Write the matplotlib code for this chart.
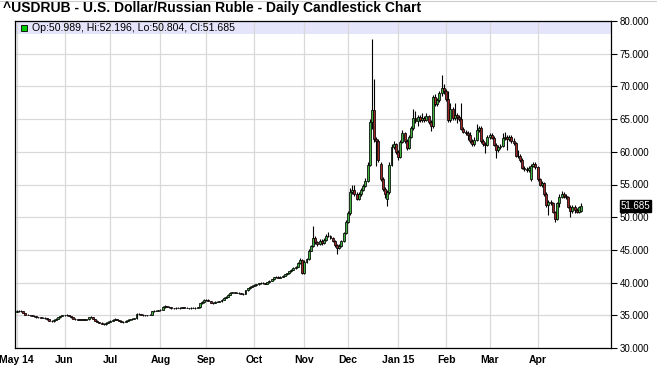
import numpy as np
import pandas as pd
import matplotlib
matplotlib.use("Agg")
import matplotlib.pyplot as plt
from matplotlib.lines import Line2D

# USD/RUB daily candles, May 2014 - Apr 2015
opens = [
    35.55, 35.62, 35.68, 35.60, 35.35, 35.12, 35.05, 35.00, 34.92, 34.85, 34.72, 34.68, 34.65, 34.62, 34.55, 34.40, 34.20, 34.08, 34.35, 34.50, 34.72, 34.88,  # May
    34.98, 35.02, 35.05, 34.90, 34.72, 34.50, 34.38, 34.35, 34.33, 34.36, 34.34, 34.40, 34.68, 34.72, 34.45, 34.20, 34.00, 33.85, 33.72, 33.62, 33.88,  # Jun
    34.05, 34.20, 34.35, 34.42, 34.30, 34.18, 34.05, 34.00, 34.15, 34.35, 34.40, 34.50, 34.55, 35.25, 35.20, 35.10, 35.02, 35.00, 35.05, 35.08, 35.60, 35.70, 35.72,  # Jul
    35.78, 35.80, 36.25, 36.40, 36.30, 36.20, 36.10, 36.05, 36.15, 36.18, 36.10, 36.20, 36.15, 36.12, 36.08, 36.12, 36.15, 36.10, 36.20, 36.85, 37.00,  # Aug
    37.30, 37.40, 37.20, 36.95, 36.90, 37.05, 37.10, 37.15, 37.40, 37.65, 37.85, 38.10, 38.45, 38.50, 38.45, 38.48, 38.40, 38.30, 38.25, 38.80, 39.10, 39.35,  # Sep
    39.55, 39.60, 39.75, 39.90, 40.00, 39.92, 39.85, 40.05, 40.30, 40.50, 40.80, 40.90, 40.75, 40.85, 41.05, 41.25, 41.40, 41.70, 41.95, 42.20, 42.45, 43.00, 43.40,  # Oct
    41.40, 43.20, 43.60, 44.90, 45.60, 46.80, 46.20, 45.90, 46.40, 46.00, 46.50, 47.20, 47.10, 46.80, 46.40, 45.70, 45.30, 45.60, 46.30, 47.60,  # Nov
    49.30, 50.60, 53.80, 54.20, 53.60, 52.80, 53.50, 54.20, 54.80, 55.60, 58.00, 64.50, 66.40, 62.00, 61.60, 58.20, 55.90, 54.30, 52.80, 53.80, 58.00, 60.80, 61.20,  # Dec
    60.00, 59.20, 61.50, 62.90, 61.60, 60.60, 62.30, 63.60, 65.20, 64.70, 65.30, 64.80, 65.20, 64.90, 65.40, 64.60, 63.90, 68.40, 67.30, 67.90, 69.00, 69.80,  # Jan
    69.30, 68.00, 64.90, 66.50, 65.20, 65.60, 65.30, 65.00, 63.50, 63.10, 62.90, 62.60, 61.70, 61.20, 61.80, 63.40, 63.60, 61.60, 61.20, 61.10,  # Feb
    62.30, 62.50, 62.10, 61.10, 60.30, 60.70, 60.90, 62.10, 62.30, 61.90, 62.20, 61.70, 61.30, 59.40, 59.30, 58.80, 57.50, 57.30, 57.20, 55.80, 57.90, 58.20,  # Mar
    57.60, 55.80, 55.00, 55.20, 53.60, 51.80, 52.40, 52.10, 50.80, 49.80, 52.10, 53.10, 53.60, 53.30, 53.10, 51.60, 50.90, 51.60, 51.10, 50.80, 50.989,  # Apr
]
highs = [
    35.75, 35.78, 35.80, 35.65, 35.40, 35.20, 35.12, 35.08, 35.00, 34.90, 34.80, 34.75, 34.72, 34.70, 34.60, 34.45, 34.25, 34.42, 34.58, 34.80, 34.95, 35.05,
    35.12, 35.15, 35.10, 34.95, 34.78, 34.55, 34.45, 34.42, 34.44, 34.43, 34.48, 34.78, 34.85, 34.78, 34.50, 34.25, 34.05, 33.90, 33.78, 33.95, 34.12,
    34.28, 34.45, 34.52, 34.48, 34.35, 34.22, 34.12, 34.22, 34.42, 34.48, 34.58, 34.65, 35.35, 35.32, 35.26, 35.15, 35.10, 35.12, 35.15, 35.68, 35.78, 35.82, 35.88,
    35.90, 36.35, 36.50, 36.48, 36.36, 36.26, 36.18, 36.24, 36.26, 36.24, 36.28, 36.26, 36.22, 36.18, 36.20, 36.22, 36.20, 36.28, 36.95, 37.12, 37.42,
    37.52, 37.48, 37.25, 37.05, 37.15, 37.20, 37.25, 37.50, 37.75, 37.95, 38.20, 38.55, 38.62, 38.60, 38.58, 38.55, 38.45, 38.36, 38.90, 39.20, 39.45, 39.65,
    39.72, 39.85, 40.00, 40.12, 40.08, 40.00, 40.15, 40.40, 40.62, 40.92, 41.02, 40.98, 40.96, 41.15, 41.36, 41.52, 41.82, 42.08, 42.32, 42.60, 43.15, 43.75, 43.55,
    43.40, 43.80, 45.10, 45.80, 48.60, 47.10, 46.40, 46.70, 46.60, 46.80, 47.50, 47.80, 47.30, 46.95, 46.55, 45.85, 45.85, 46.50, 47.80, 49.50,
    50.90, 54.50, 55.00, 55.00, 53.90, 53.80, 54.50, 55.10, 56.00, 58.40, 65.00, 77.30, 71.10, 62.30, 61.90, 58.40, 56.20, 54.60, 54.10, 58.40, 61.20, 61.60, 61.40,
    60.20, 61.80, 63.30, 63.10, 61.90, 62.60, 63.90, 66.50, 66.20, 65.60, 65.60, 66.00, 65.50, 66.00, 65.70, 64.90, 68.70, 68.90, 68.20, 69.30, 71.70, 70.40,
    69.60, 69.30, 67.50, 66.90, 67.50, 66.00, 65.60, 67.50, 63.80, 63.40, 63.20, 63.10, 62.00, 62.30, 64.30, 63.90, 63.90, 61.90, 61.50, 62.60,
    62.80, 62.80, 62.40, 61.40, 61.00, 61.20, 62.80, 63.00, 62.60, 62.60, 62.50, 62.10, 61.50, 60.30, 59.60, 59.00, 57.80, 57.60, 57.80, 58.10, 58.50, 58.40,
    57.80, 56.00, 55.50, 55.40, 53.80, 52.60, 52.70, 52.30, 51.00, 52.30, 53.60, 54.00, 53.90, 53.60, 53.30, 51.90, 51.80, 51.90, 51.40, 51.70, 52.196,
]
lows = [
    35.50, 35.55, 35.52, 35.28, 35.05, 34.98, 34.92, 34.85, 34.78, 34.65, 34.60, 34.58, 34.55, 34.48, 34.32, 34.12, 33.98, 34.02, 34.28, 34.45, 34.65, 34.82,
    34.90, 34.95, 34.82, 34.65, 34.42, 34.30, 34.28, 34.26, 34.27, 34.27, 34.28, 34.35, 34.60, 34.38, 34.12, 33.92, 33.78, 33.62, 33.52, 33.55, 33.82,
    33.98, 34.15, 34.28, 34.22, 34.10, 33.95, 33.80, 33.92, 34.10, 34.30, 34.35, 34.45, 34.50, 35.12, 35.02, 34.95, 34.92, 34.94, 34.98, 35.02, 35.52, 35.62, 35.65,
    35.70, 35.75, 36.18, 36.22, 36.12, 36.02, 35.98, 36.00, 36.08, 36.02, 36.04, 36.08, 36.05, 36.00, 36.02, 36.06, 36.03, 36.04, 36.15, 36.78, 36.95,
    37.22, 37.12, 36.85, 36.80, 36.85, 36.98, 37.02, 37.10, 37.35, 37.58, 37.80, 38.05, 38.38, 38.36, 38.38, 38.32, 38.22, 38.15, 38.20, 38.75, 39.05, 39.28,
    39.48, 39.52, 39.68, 39.85, 39.84, 39.76, 39.80, 40.00, 40.25, 40.45, 40.72, 40.65, 40.68, 40.80, 41.00, 41.18, 41.35, 41.62, 41.88, 42.12, 42.40, 42.90, 41.30,
    41.25, 43.05, 43.50, 44.80, 45.40, 45.90, 45.60, 45.75, 45.80, 45.90, 46.40, 46.90, 46.60, 46.20, 45.50, 44.30, 45.10, 45.45, 46.20, 47.50,
    49.10, 50.40, 53.50, 53.30, 52.60, 52.60, 53.30, 54.00, 54.60, 55.40, 57.80, 63.50, 61.50, 57.90, 58.50, 55.60, 54.00, 53.00, 51.70, 53.60, 57.80, 60.50, 59.70,
    58.80, 59.00, 61.30, 61.30, 60.20, 60.40, 62.10, 63.40, 64.40, 64.00, 64.50, 64.60, 64.60, 64.70, 64.30, 63.20, 63.70, 67.00, 67.00, 67.60, 68.50, 68.80,
    67.70, 64.60, 64.60, 64.90, 64.90, 64.40, 64.70, 63.30, 62.80, 62.50, 61.80, 61.40, 60.90, 60.90, 61.60, 63.00, 61.40, 60.90, 59.80, 60.90,
    62.00, 61.90, 60.90, 59.00, 60.00, 60.40, 60.70, 61.80, 60.30, 61.60, 61.40, 61.00, 59.20, 59.00, 58.50, 57.30, 57.00, 56.90, 56.90, 55.60, 57.60, 57.30,
    55.60, 54.70, 54.60, 53.30, 51.60, 50.30, 51.80, 50.60, 49.30, 49.60, 51.60, 52.90, 53.00, 52.80, 51.40, 50.00, 50.60, 50.60, 50.60, 50.60, 50.804,
]
closes = [
    35.62, 35.68, 35.60, 35.35, 35.12, 35.05, 35.00, 34.92, 34.85, 34.72, 34.68, 34.65, 34.62, 34.55, 34.40, 34.20, 34.08, 34.35, 34.50, 34.72, 34.88, 34.98,
    35.02, 35.05, 34.90, 34.72, 34.50, 34.38, 34.35, 34.33, 34.36, 34.34, 34.40, 34.68, 34.72, 34.45, 34.20, 34.00, 33.85, 33.72, 33.62, 33.88, 34.05,
    34.20, 34.35, 34.42, 34.30, 34.18, 34.05, 34.00, 34.15, 34.35, 34.40, 34.50, 34.55, 35.25, 35.20, 35.10, 35.02, 35.00, 35.05, 35.08, 35.60, 35.70, 35.72, 35.78,
    35.80, 36.25, 36.40, 36.30, 36.20, 36.10, 36.05, 36.15, 36.18, 36.10, 36.20, 36.15, 36.12, 36.08, 36.12, 36.15, 36.10, 36.20, 36.85, 37.00, 37.30,
    37.40, 37.20, 36.95, 36.90, 37.05, 37.10, 37.15, 37.40, 37.65, 37.85, 38.10, 38.45, 38.50, 38.45, 38.48, 38.40, 38.30, 38.25, 38.80, 39.10, 39.35, 39.55,
    39.60, 39.75, 39.90, 40.00, 39.92, 39.85, 40.05, 40.30, 40.50, 40.80, 40.90, 40.75, 40.85, 41.05, 41.25, 41.40, 41.70, 41.95, 42.20, 42.45, 43.00, 43.40, 41.50,
    43.20, 43.60, 44.90, 45.60, 46.80, 46.20, 45.90, 46.40, 46.00, 46.50, 47.20, 47.10, 46.80, 46.40, 45.70, 45.30, 45.60, 46.30, 47.60, 49.30,
    50.60, 53.80, 54.20, 53.60, 52.80, 53.50, 54.20, 54.80, 55.60, 58.00, 64.50, 66.40, 62.00, 61.60, 58.80, 55.90, 54.30, 53.50, 53.80, 58.00, 60.80, 61.20, 60.00,
    59.20, 61.50, 62.90, 61.60, 60.60, 62.30, 63.60, 65.20, 64.70, 65.30, 64.80, 65.20, 64.90, 65.40, 64.60, 63.90, 68.40, 67.30, 67.90, 69.00, 69.80, 69.30,
    68.00, 64.90, 66.50, 65.20, 65.60, 65.30, 65.00, 63.50, 63.10, 62.90, 62.60, 61.70, 61.20, 61.80, 63.40, 63.60, 61.60, 61.20, 61.10, 62.30,
    62.50, 62.10, 61.10, 60.30, 60.70, 60.90, 62.10, 62.30, 61.90, 62.20, 61.70, 61.30, 59.40, 59.30, 58.80, 57.50, 57.30, 57.20, 57.50, 57.90, 58.20, 57.60,
    55.80, 55.00, 55.20, 53.60, 51.80, 52.40, 52.10, 50.80, 49.80, 52.10, 53.10, 53.60, 53.30, 53.10, 51.60, 50.90, 51.60, 51.10, 50.80, 51.50, 51.685,
]

month_labels = ["May 14", "Jun", "Jul", "Aug", "Sep", "Oct", "Nov", "Dec",
                "Jan 15", "Feb", "Mar", "Apr"]
y_ticks = [30, 35, 40, 45, 50, 55, 60, 65, 70, 75, 80]
title = "^USDRUB - U.S. Dollar/Russian Ruble - Daily Candlestick Chart"

dates = pd.bdate_range("2014-05-01", "2015-04-29")
assert len(dates) == len(opens) == len(highs) == len(lows) == len(closes)

o = np.array(opens)
h = np.array(highs)
l = np.array(lows)
c = np.array(closes)
x = np.arange(len(c))
up = c >= o

# first trading day of every month
month_pos = [i for i in range(len(dates)) if i == 0 or dates[i].month != dates[i - 1].month]

plt.rcParams["font.family"] = ["Liberation Sans", "DejaVu Sans"]

fig = plt.figure(figsize=(6.57, 3.68), dpi=100)
ax = fig.add_axes([15 / 657, 1 - 348 / 368, (611 - 15) / 657, (348 - 21) / 368])

GREEN = "#3fb43f"
RED = "#a02828"

# legend band along the top of the plot
ax.axhspan(78.0, 80, color="#e4e4fb", zorder=0, lw=0)

ax.vlines(x, l, h, color="black", lw=0.8, zorder=3)
body_lo = np.minimum(o, c)
body_h = np.maximum(np.abs(c - o), 0.03)
ax.bar(x[up], body_h[up], bottom=body_lo[up], width=0.9, color=GREEN,
       edgecolor="black", linewidth=0.55, zorder=4)
ax.bar(x[~up], body_h[~up], bottom=body_lo[~up], width=0.9, color=RED,
       edgecolor="black", linewidth=0.55, zorder=4)

ax.set_xlim(-0.75, 272.7)
ax.set_ylim(30, 80)

ax.set_xticks(month_pos)
ax.set_xticklabels(month_labels, fontsize=7.5, fontweight="bold")
ax.tick_params(axis="x", length=0, pad=5)

ax.yaxis.tick_right()
ax.set_yticks(y_ticks)
ax.set_yticklabels([f"{v:.3f}" for v in y_ticks], fontsize=7)
ax.tick_params(axis="y", direction="out", length=4, width=0.8, pad=2)

ax.grid(True, color="#d9d9d9", lw=0.9, zorder=1)
ax.set_axisbelow(True)
for s in ax.spines.values():
    s.set_color("black")
    s.set_linewidth(0.9)

# last price marker on the right axis
last = closes[-1]
ax.annotate(f"{last:.3f}", xy=(1.0, last), xycoords=("axes fraction", "data"),
            xytext=(7, 0), textcoords="offset points", va="center", ha="left",
            fontsize=7, color="white",
            bbox=dict(boxstyle="square,pad=0.1", fc="black", ec="black"))

# legend text with small green square
ax.plot([3.5], [79.0], marker="s", ms=5, mfc="#00cc00", mec="black", mew=0.6,
        clip_on=False, zorder=5)
ax.text(7, 79.0, f"Op:{opens[-1]:.3f}, Hi:{highs[-1]:.3f}, Lo:{lows[-1]:.3f}, Cl:{closes[-1]:.3f}",
        fontsize=7.6, va="center", ha="left", zorder=5)

fig.text(3 / 657, 1 - 8 / 368, title, fontsize=10, fontweight="bold", va="center", ha="left")
fig.add_artist(Line2D([0, 1], [0.998, 0.998], color="#cccccc", lw=0.8))

fig.savefig("out.png", dpi=100)
